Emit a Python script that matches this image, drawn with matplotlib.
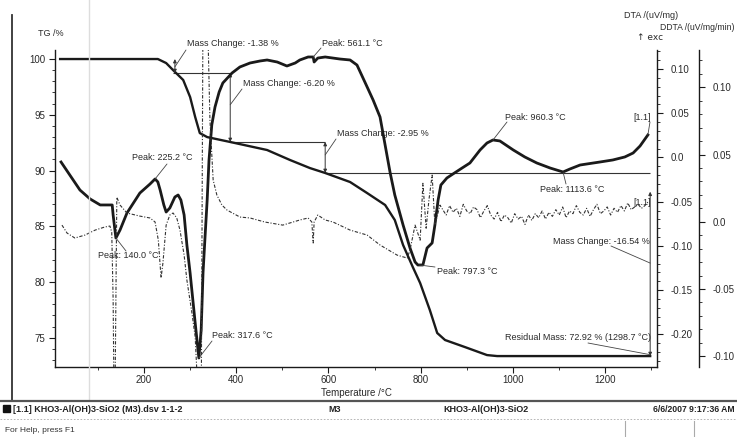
import numpy as np
import matplotlib
matplotlib.use("Agg")
import matplotlib.pyplot as plt
from matplotlib.ticker import MultipleLocator, FuncFormatter
from matplotlib.lines import Line2D
from matplotlib.patches import Rectangle

plt.rcParams['font.family'] = ['Liberation Sans', 'DejaVu Sans']
plt.rcParams['axes.unicode_minus'] = False

# ---------------- data ----------------
tg_temp = [18, 230, 248, 263, 285, 300, 311, 321, 337, 387, 467, 517, 560, 593,
           647, 684, 723, 744, 762, 783, 799, 820, 836, 853, 896, 944, 966, 1298]
tg_mass = [100.0, 100.0, 99.64, 99.01, 98.12, 96.59, 94.80, 93.36, 93.00, 92.56,
           91.84, 90.94, 90.22, 89.78, 88.97, 87.98, 86.91, 85.56, 83.32, 81.35,
           79.91, 77.49, 75.43, 74.80, 74.17, 73.45, 73.36, 73.36]

dta_temp = [20, 39, 61, 83, 105, 131, 133, 139, 148, 163, 191, 213, 224, 230, 235,
            243, 248, 256, 267, 274, 280, 287, 293, 300, 311, 319, 324, 328, 332,
            337, 341, 347, 354, 363, 371, 391, 408, 430, 452, 467, 489, 510, 528,
            538, 556, 567, 569, 577, 593, 625, 647, 662, 684, 697, 712, 734, 744,
            762, 777, 788, 794, 805, 814, 825, 831, 838, 844, 857, 870, 890, 907,
            929, 944, 957, 972, 1001, 1026, 1052, 1081, 1109, 1124, 1146, 1189,
            1217, 1243, 1261, 1276, 1293]
dta_val = [-0.0051, -0.0198, -0.0368, -0.0469, -0.0537, -0.0537, -0.0650, -0.0911,
           -0.0820, -0.0628, -0.0402, -0.0300, -0.0243, -0.0277, -0.0368, -0.0537,
           -0.0617, -0.0571, -0.0447, -0.0424, -0.0481, -0.0650, -0.0990, -0.1307,
           -0.1872, -0.2268, -0.1950, -0.1307, -0.0933, -0.0481, -0.0028, 0.0368,
           0.0571, 0.0741, 0.0843, 0.0956, 0.1024, 0.1069, 0.1092, 0.1103, 0.1080,
           0.1035, 0.1069, 0.1103, 0.1137, 0.1137, 0.1080, 0.1125, 0.1137, 0.1114,
           0.1103, 0.1046, 0.0798, 0.0650, 0.0458, -0.0175, -0.0424, -0.0764,
           -0.1024, -0.1182, -0.1216, -0.1216, -0.1024, -0.0967, -0.0764, -0.0481,
           -0.0311, -0.0232, -0.0187, -0.0119, -0.0062, 0.0085, 0.0164, 0.0198,
           0.0187, 0.0085, 0.0006, -0.0062, -0.0119, -0.0164, -0.0130, -0.0085,
           -0.0051, -0.0028, 0.0006, 0.0051, 0.0130, 0.0255]

ddta_temp = [22, 33, 50, 72, 94, 115, 126, 130, 133, 135, 137, 139, 141, 148, 163,
             191, 213, 224, 231, 235, 237, 241, 248, 256, 263, 271, 278, 287, 293,
             304, 311, 315, 319, 324, 328, 337, 343, 350, 358, 369, 380, 408, 430,
             462, 501, 538, 556, 564, 567, 569, 577, 593, 610, 647, 684, 712, 749,
             771, 777, 788, 799, 805, 812, 818, 825, 831, 842]
ddta_val = [-0.0025, -0.0084, -0.0121, -0.0099, -0.0062, -0.0039, -0.0032, -0.0077,
            -0.058, -0.133, -0.133, -0.058, 0.0182, 0.0124, 0.0065, 0.0042, 0.0028,
            -0.0002, -0.0136, -0.0322, -0.0418, -0.0307, -0.0025, 0.0050, 0.0065,
            0.0028, -0.0062, -0.0248, -0.0434, -0.068, -0.0857, -0.114, -0.148,
            -0.148, 0.165, 0.165, 0.0756, 0.0310, 0.0199, 0.0124, 0.0087, 0.0035,
            0.0028, -0.0002, -0.0025, 0.0013, 0.0028, -0.0002, -0.0158, -0.0002,
            0.0050, 0.0013, -0.0002, -0.0062, -0.0099, -0.0173, -0.0248, -0.0270,
            -0.0210, -0.0025, -0.0137, 0.0286, -0.0048, 0.0161, 0.0347, -0.0025,
            0.0124]
# noisy tail of DDTA, 848..1294 C (values x 1e-3)
ddta_tail_milli = [9, 5, 12, 7, 10, 4, 13, 8, 6, 11, 9, 3, 8, 12, 5, 2, 7, 0, 5, 3,
                   -1, 6, 2, 4, -2, 5, 1, 6, 3, 8, 2, 7, 4, 9, 5, 11, 3, 8, 6, 12,
                   7, 5, 10, 4, 9, 13, 6, 8, 11, 5, 10, 7, 12, 8, 14, 9, 11, 13, 10,
                   12, 15]

# mass change steps (TG levels) and temperatures of the step markers
step_levels = [100.0, 98.74, 92.56, 89.78, 73.36]
step_temps = [267, 387, 593, 1298]

x_ticks = [200, 400, 600, 800, 1000, 1200]
tg_ticks = [75, 80, 85, 90, 95, 100]
dta_ticks = [-0.20, -0.15, -0.10, -0.05, 0.0, 0.05, 0.10]
ddta_ticks = [-0.10, -0.05, 0.0, 0.05, 0.10]

# ---------------- figure ----------------
W, H = 737, 437
fig = plt.figure(figsize=(W / 100, H / 100), dpi=100)
fig.patch.set_facecolor('white')
L, R, B, T = 55, 657, 367, 50
ax = fig.add_axes([L / W, 1 - B / H, (R - L) / W, (B - T) / H])
ax2 = ax.twinx()
ax3 = ax.twinx()
ax3.spines['right'].set_position(('outward', 42 * 0.72))

ink = '#1a1a1a'
txt = '#2a2a2a'

ax.set_xlim(6.9, 1312.8)
ax.set_ylim(72.38, 100.81)
ax2.set_ylim(-0.237, 0.1216)
ax3.set_ylim(-0.108, 0.1277)

for a in (ax, ax2, ax3):
    a.spines['top'].set_visible(False)
    for s in a.spines.values():
        s.set_color(ink)
        s.set_linewidth(1.0)
ax.spines['right'].set_visible(False)
for s in ('left', 'bottom'):
    ax2.spines[s].set_visible(False)
    ax3.spines[s].set_visible(False)

# curves
ax.plot(tg_temp, tg_mass, color=ink, lw=1.7, solid_joinstyle='round', zorder=3)
ax2.plot(dta_temp, dta_val, color=ink, lw=2.0, solid_joinstyle='round', zorder=3)
tail_t = np.linspace(848, 1294, len(ddta_tail_milli))
dd_t = list(ddta_temp) + list(tail_t)
dd_v = list(ddta_val) + [v / 1000 for v in ddta_tail_milli]
ax3.plot(dd_t, dd_v, color='#333333', lw=0.8, linestyle=(0, (3, 1.5, 1, 1.5)), zorder=2)

# ticks
ax.set_xticks(x_ticks)
ax.xaxis.set_minor_locator(MultipleLocator(100))
ax.set_yticks(tg_ticks)
ax.yaxis.set_minor_locator(MultipleLocator(1))
ax2.set_yticks(dta_ticks)
ax2.yaxis.set_minor_locator(MultipleLocator(0.01))
ax3.set_yticks(ddta_ticks)
ax3.yaxis.set_minor_locator(MultipleLocator(0.01))
fmt = FuncFormatter(lambda v, p: '0.0' if abs(v) < 1e-9 else f'{v:.2f}')
ax2.yaxis.set_major_formatter(fmt)
ax3.yaxis.set_major_formatter(fmt)
for a in (ax, ax2, ax3):
    a.tick_params(which='major', direction='out', length=4, width=0.8, color=ink,
                  labelsize=7, labelcolor=txt, pad=2)
    a.tick_params(which='minor', direction='out', length=2, width=0.6, color=ink)
ax.tick_params(axis='y', pad=3)
ax2.tick_params(axis='y', pad=6)
ax3.tick_params(axis='y', pad=6)

ax.set_xlabel('Temperature /°C', fontsize=7, color=txt, labelpad=2)

# mass change reference lines
lc = '#333333'
ax.hlines(step_levels[1], step_temps[0] - 4, step_temps[1] + 2, color=lc, lw=0.8)
ax.hlines(step_levels[2], step_temps[1], step_temps[2], color=lc, lw=0.8)
ax.hlines(step_levels[3], step_temps[2], step_temps[3], color=lc, lw=0.8)
arrow_kw = dict(arrowstyle='<|-|>', lw=0.7, color=lc, mutation_scale=5, shrinkA=0, shrinkB=0)
ax.annotate('', xy=(step_temps[0], step_levels[0]), xytext=(step_temps[0], step_levels[1]),
            arrowprops=arrow_kw)
ax.annotate('', xy=(step_temps[1], step_levels[1]), xytext=(step_temps[1], step_levels[2]),
            arrowprops=arrow_kw)
ax.annotate('', xy=(step_temps[2], step_levels[2]), xytext=(step_temps[2], step_levels[3]),
            arrowprops=arrow_kw)
ax.annotate('', xy=(step_temps[3], 88.1), xytext=(step_temps[3], step_levels[4]),
            arrowprops=arrow_kw)

# annotations (text placed in figure pixels, y measured from the top)
def note(axis, text, xy, tx, ty, lx=None, ly=None, clip=False):
    if lx is None:
        lx, ly = tx, ty
    t = axis.annotate(text, xy=xy, xycoords='data',
                      xytext=(tx, H - ty), textcoords='figure pixels',
                      fontsize=6.5, color=txt, ha='left', va='center',
                      annotation_clip=False)
    axis.annotate('', xy=xy, xycoords='data', xytext=(lx, H - ly),
                  textcoords='figure pixels',
                  arrowprops=dict(arrowstyle='-', lw=0.6, color='#444444',
                                  shrinkA=0, shrinkB=0))
    if clip:
        t.set_clip_on(True)
        t.set_clip_box(axis.bbox)
    return t

note(ax, 'Mass Change: -1.38 %', (267, 99.3), 187, 44, 186, 50)
note(ax, 'Mass Change: -6.20 %', (387, 95.9), 243, 83, 242, 89)
note(ax, 'Mass Change: -2.95 %', (593, 91.4), 337, 133, 336, 139)
note(ax, 'Mass Change: -16.54 %', (1298, 81.7), 553, 241, 611, 246)
note(ax, 'Residual Mass: 72.92 % (1298.7 °C)', (1296, 73.5), 505, 338, 588, 343, clip=True)
note(ax2, 'Peak: 561.1 °C', (567, 0.1137), 322, 43, 321, 48)
note(ax2, 'Peak: 225.2 °C', (224, -0.0243), 132, 158, 167, 164)
note(ax2, 'Peak: 140.0 °C', (139, -0.0911), 98, 256, 126, 251)
note(ax2, 'Peak: 317.6 °C', (319, -0.2268), 212, 336, 212, 341)
note(ax2, 'Peak: 960.3 °C', (957, 0.0198), 505, 117, 507, 122)
note(ax2, 'Peak: 1113.6 °C', (1109, -0.0164), 540, 189, 566, 184)
note(ax2, 'Peak: 797.3 °C', (797, -0.1216), 437, 271, 435, 267)
note(ax2, '[1.1]', (1293, 0.0255), 633, 117, 650, 122)
fig.text(633 / W, 1 - 202 / H, '[1.1]', fontsize=6.5, color=txt, ha='left', va='center')

# axis titles
fig.text(38 / W, 1 - 34 / H, 'TG /%', fontsize=6.5, color=txt, ha='left', va='center')
fig.text(624 / W, 1 - 15 / H, 'DTA /(uV/mg)', fontsize=6.5, color=txt, ha='left', va='center')
fig.text(735 / W, 1 - 27 / H, 'DDTA /(uV/mg/min)', fontsize=6.2, color=txt, ha='right', va='center')
fig.text(637 / W, 1 - 37 / H, '↑ exc', fontsize=6.5, color=txt, ha='left', va='center',
         family=['DejaVu Sans'])

# window frame / scan elements
fig.add_artist(Line2D([12 / W, 12 / W], [1 - 15 / H, 1 - 401 / H], color='#333333', lw=1.3))
fig.add_artist(Line2D([89 / W, 89 / W], [1 - 0 / H, 1 - 400 / H], color='#dddddd', lw=1.0))
fig.add_artist(Line2D([0, 1], [1 - 401 / H, 1 - 401 / H], color='#555555', lw=1.6))
fig.add_artist(Line2D([0, 1], [1 - 419 / H, 1 - 419 / H], color='#aaaaaa', lw=0.6,
                      linestyle=(0, (2, 2))))
fig.add_artist(Line2D([625 / W, 625 / W], [1 - 421 / H, 0], color='#aaaaaa', lw=0.8))
fig.add_artist(Line2D([694 / W, 694 / W], [1 - 421 / H, 0], color='#aaaaaa', lw=0.8))
fig.add_artist(Rectangle((3 / W, 1 - 412 / H), 7 / W, 7 / H, transform=fig.transFigure,
                         color='#111111'))
bar_kw = dict(fontsize=6.5, color='#222222', ha='left', va='center', weight='bold')
fig.text(13 / W, 1 - 409 / H, '[1.1] KHO3-Al(OH)3-SiO2 (M3).dsv 1-1-2', **bar_kw)
fig.text(328 / W, 1 - 409 / H, 'M3', **bar_kw)
fig.text(443 / W, 1 - 409 / H, 'KHO3-Al(OH)3-SiO2', **bar_kw)
fig.text(735 / W, 1 - 409 / H, '6/6/2007 9:17:36 AM', fontsize=6.2, color='#222222',
         ha='right', va='center', weight='bold')
fig.text(5 / W, 1 - 431 / H, 'For Help, press F1', fontsize=6, color='#333333',
         ha='left', va='center')

fig.savefig('out.png', dpi=100)
